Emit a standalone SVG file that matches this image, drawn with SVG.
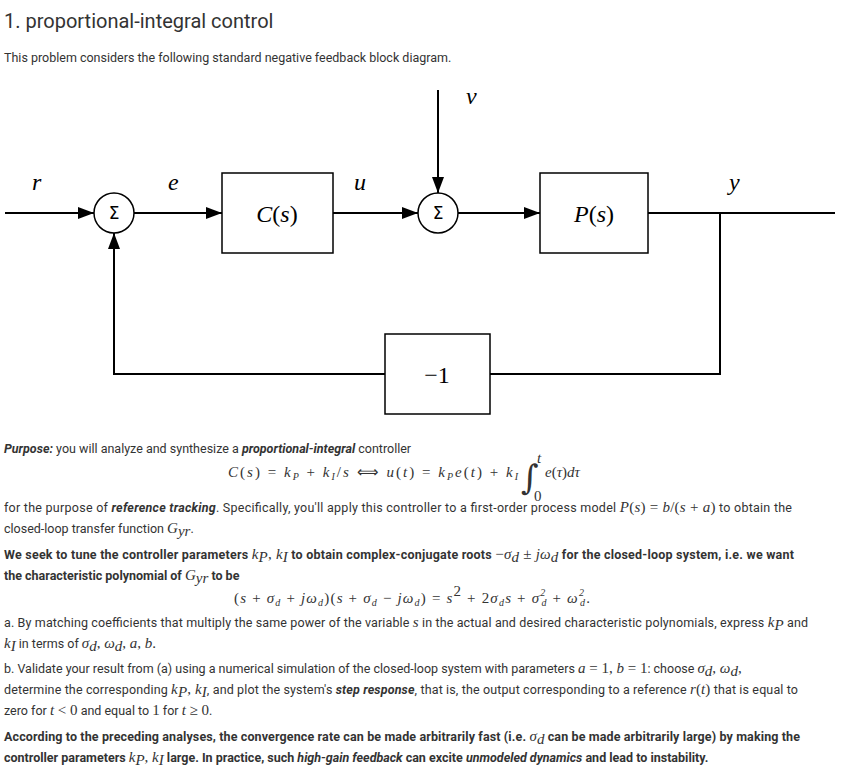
<svg xmlns="http://www.w3.org/2000/svg" width="842" height="769" viewBox="0 0 842 769">
<style>
.t{font-family:Roboto,"Liberation Sans",sans-serif;font-size:12.5px;fill:#333}
.b{font-weight:bold}
.i{font-style:italic}
.m{font-family:"Liberation Serif",serif;font-style:italic;font-size:15px}
.mr{font-family:"Liberation Serif",serif;font-size:15px;font-style:normal}
.ln{stroke:#000;stroke-width:2;fill:none}
.bx{stroke:#000;stroke-width:1.5;fill:#fff}
.lb{font-family:"Liberation Serif",serif;font-size:24px;fill:#000}
.sg{font-family:"DejaVu Sans",sans-serif;font-size:17px;fill:#000}
</style>
<defs>
<marker id="A" viewBox="0 0 10 10" refX="10" refY="5" markerWidth="16" markerHeight="12" markerUnits="userSpaceOnUse" orient="auto" preserveAspectRatio="none"><path d="M0,0 L10,5 L0,10z" fill="#000"/></marker></defs>
<rect width="842" height="769" fill="#fff"/>
<text x="4" y="28" style="font-family:Roboto,sans-serif;font-size:20px;fill:#333">1. proportional-integral control</text>
<text class="t" x="4" y="62">This problem considers the following standard negative feedback block diagram.</text>
<g id="connectors">
<path class="ln" d="M5,213 H94" marker-end="url(#A)"/>
<path class="ln" d="M134,213 H222" marker-end="url(#A)"/>
<path class="ln" d="M333,213 H418" marker-end="url(#A)"/>
<path class="ln" d="M458,213 H540" marker-end="url(#A)"/>
<path class="ln" d="M648,213 H835"/>
<path class="ln" d="M438,90 V193" marker-end="url(#A)"/>
<path class="ln" d="M720,213 V374 H490"/>
<path class="ln" d="M385,374 H114 V233" marker-end="url(#A)"/>
</g>
<g id="sum1"><circle class="bx" cx="114" cy="213" r="20"/><text class="sg" x="114" y="219" text-anchor="middle">Σ</text></g>
<g id="C"><rect class="bx" x="222" y="173" width="111" height="80"/><text class="lb" x="277" y="222" text-anchor="middle"><tspan font-style="italic">C</tspan>(<tspan font-style="italic">s</tspan>)</text></g>
<g id="sum2"><circle class="bx" cx="438" cy="213" r="20"/><text class="sg" x="438" y="219" text-anchor="middle">Σ</text></g>
<g id="P"><rect class="bx" x="540" y="173" width="108" height="80"/><text class="lb" x="594" y="222" text-anchor="middle"><tspan font-style="italic">P</tspan>(<tspan font-style="italic">s</tspan>)</text></g>
<g id="neg"><rect class="bx" x="385" y="334" width="105" height="80"/><text class="lb" x="437" y="383" text-anchor="middle">−1</text></g>
<g class="lb" font-style="italic" font-size="22">
<text x="32" y="190">r</text><text x="168" y="190">e</text><text x="354" y="190">u</text><text x="466" y="104">v</text><text x="729" y="190">y</text>
</g>
<text class="t" x="4" y="453"><tspan class="b i">Purpose:</tspan> you will analyze and synthesize a <tspan class="b i">proportional-integral</tspan> controller</text>
<text class="m" x="228" y="477" fill="#333" font-size="16" textLength="290">C<tspan class="mr" font-size="16">(</tspan>s<tspan class="mr" font-size="16">) = </tspan>k<tspan font-size="10" dy="3">P</tspan><tspan class="mr" font-size="16" dy="-3"> + </tspan>k<tspan font-size="10" dy="3">I</tspan><tspan class="mr" font-size="16" dy="-3">/</tspan>s<tspan class="mr" font-size="16">  ⟺  </tspan>u<tspan class="mr" font-size="16">(</tspan>t<tspan class="mr" font-size="16">) = </tspan>k<tspan font-size="10" dy="3">P</tspan><tspan dy="-3">e</tspan><tspan class="mr" font-size="16">(</tspan>t<tspan class="mr" font-size="16">) + </tspan>k<tspan font-size="10" dy="3">I</tspan></text>
<text x="521" y="489" font-family="'DejaVu Serif',serif" font-size="34" fill="#333">∫</text>
<text class="m" x="537" y="463" font-size="10" fill="#333">t</text><text class="mr" x="534" y="501" font-size="10" fill="#333">0</text>
<text class="m" x="545" y="477" font-size="16" fill="#333">e<tspan class="mr" font-size="16">(</tspan>τ<tspan class="mr" font-size="16">)</tspan>dτ</text>
<text class="t" x="4" y="512" textLength="788">for the purpose of <tspan class="b i">reference tracking</tspan>. Specifically, you'll apply this controller to a first-order process model <tspan class="m">P</tspan><tspan class="mr">(</tspan><tspan class="m">s</tspan><tspan class="mr">) = </tspan><tspan class="m">b</tspan><tspan class="mr">/(</tspan><tspan class="m">s</tspan><tspan class="mr"> + </tspan><tspan class="m">a</tspan><tspan class="mr">)</tspan> to obtain the</text>
<text class="t" x="4" y="533">closed-loop transfer function <tspan class="m">G</tspan><tspan class="m" font-size="9" dy="3">yr</tspan><tspan dy="-3">.</tspan></text>
<text class="t b" x="4" y="559" textLength="790">We seek to tune the controller parameters <tspan class="m" font-weight="normal">k</tspan><tspan class="m" font-weight="normal" font-size="9" dy="3">P</tspan><tspan class="mr" font-weight="normal" dy="-3">, </tspan><tspan class="m" font-weight="normal">k</tspan><tspan class="m" font-weight="normal" font-size="9" dy="3">I</tspan><tspan dy="-3"> to obtain complex-conjugate roots </tspan><tspan class="mr" font-weight="normal">−</tspan><tspan class="m" font-weight="normal">σ</tspan><tspan class="m" font-weight="normal" font-size="9" dy="3">d</tspan><tspan class="mr" font-weight="normal" dy="-3"> ± </tspan><tspan class="m" font-weight="normal">jω</tspan><tspan class="m" font-weight="normal" font-size="9" dy="3">d</tspan><tspan dy="-3"> for the closed-loop system, i.e. we want</tspan></text>
<text class="t b" x="4" y="580">the characteristic polynomial of <tspan class="m" font-weight="normal">G</tspan><tspan class="m" font-weight="normal" font-size="9" dy="3">yr</tspan><tspan dy="-3"> to be</tspan></text>
<text class="m" x="234" y="603" fill="#333" font-size="16" textLength="356"><tspan class="mr" font-size="16">(</tspan>s<tspan class="mr" font-size="16"> + </tspan>σ<tspan font-size="10" dy="3">d</tspan><tspan class="mr" font-size="16" dy="-3"> + </tspan>jω<tspan font-size="10" dy="3">d</tspan><tspan class="mr" font-size="16" dy="-3">)(</tspan>s<tspan class="mr" font-size="16"> + </tspan>σ<tspan font-size="10" dy="3">d</tspan><tspan class="mr" font-size="16" dy="-3"> − </tspan>jω<tspan font-size="10" dy="3">d</tspan><tspan class="mr" font-size="16" dy="-3">) = </tspan>s<tspan class="mr" font-size="10" dy="-7">2</tspan><tspan class="mr" font-size="16" dy="7"> + 2</tspan>σ<tspan font-size="10" dy="3">d</tspan><tspan dy="-3">s</tspan><tspan class="mr" font-size="16"> + </tspan>σ<tspan font-size="10" dy="-7">2</tspan><tspan font-size="10" dx="-5" dy="10">d</tspan><tspan class="mr" font-size="16" dy="-3"> + </tspan>ω<tspan font-size="10" dy="-7">2</tspan><tspan font-size="10" dx="-5" dy="10">d</tspan><tspan class="mr" font-size="16" dy="-3">.</tspan></text>
<text class="t" x="4" y="627" textLength="804">a. By matching coefficients that multiply the same power of the variable <tspan class="m">s</tspan> in the actual and desired characteristic polynomials, express <tspan class="m">k</tspan><tspan class="m" font-size="9" dy="3">P</tspan><tspan dy="-3"> and</tspan></text>
<text class="t" x="4" y="648"><tspan class="m">k</tspan><tspan class="m" font-size="9" dy="3">I</tspan><tspan dy="-3"> in terms of </tspan><tspan class="m">σ</tspan><tspan class="m" font-size="9" dy="3">d</tspan><tspan class="mr" dy="-3">, </tspan><tspan class="m">ω</tspan><tspan class="m" font-size="9" dy="3">d</tspan><tspan class="mr" dy="-3">, </tspan><tspan class="m">a</tspan><tspan class="mr">, </tspan><tspan class="m">b</tspan><tspan class="mr">.</tspan></text>
<text class="t" x="4" y="673">b. Validate your result from (a) using a numerical simulation of the closed-loop system with parameters <tspan class="m">a</tspan><tspan class="mr"> = 1, </tspan><tspan class="m">b</tspan><tspan class="mr"> = 1</tspan>: choose <tspan class="m">σ</tspan><tspan class="m" font-size="9" dy="3">d</tspan><tspan class="mr" dy="-3">, </tspan><tspan class="m">ω</tspan><tspan class="m" font-size="9" dy="3">d</tspan><tspan class="mr" dy="-3">,</tspan></text>
<text class="t" x="4" y="694" textLength="794">determine the corresponding <tspan class="m">k</tspan><tspan class="m" font-size="9" dy="3">P</tspan><tspan class="mr" dy="-3">, </tspan><tspan class="m">k</tspan><tspan class="m" font-size="9" dy="3">I</tspan><tspan dy="-3">, and plot the system's </tspan><tspan class="b i">step response</tspan>, that is, the output corresponding to a reference <tspan class="m">r</tspan><tspan class="mr">(</tspan><tspan class="m">t</tspan><tspan class="mr">)</tspan> that is equal to</text>
<text class="t" x="4" y="715">zero for <tspan class="m">t</tspan><tspan class="mr"> &lt; 0</tspan> and equal to <tspan class="mr">1</tspan> for <tspan class="m">t</tspan><tspan class="mr"> ≥ 0</tspan>.</text>
<text class="t b" x="4" y="741" textLength="796">According to the preceding analyses, the convergence rate can be made arbitrarily fast (i.e. <tspan class="m" font-weight="normal">σ</tspan><tspan class="m" font-weight="normal" font-size="9" dy="3">d</tspan><tspan dy="-3"> can be made arbitrarily large) by making the</tspan></text>
<text class="t b" x="4" y="762">controller parameters <tspan class="m" font-weight="normal">k</tspan><tspan class="m" font-weight="normal" font-size="9" dy="3">P</tspan><tspan class="mr" font-weight="normal" dy="-3">, </tspan><tspan class="m" font-weight="normal">k</tspan><tspan class="m" font-weight="normal" font-size="9" dy="3">I</tspan><tspan dy="-3"> large. In practice, such </tspan><tspan class="i">high-gain feedback</tspan> can excite <tspan class="i">unmodeled dynamics</tspan> and lead to instability.</text>
</svg>
